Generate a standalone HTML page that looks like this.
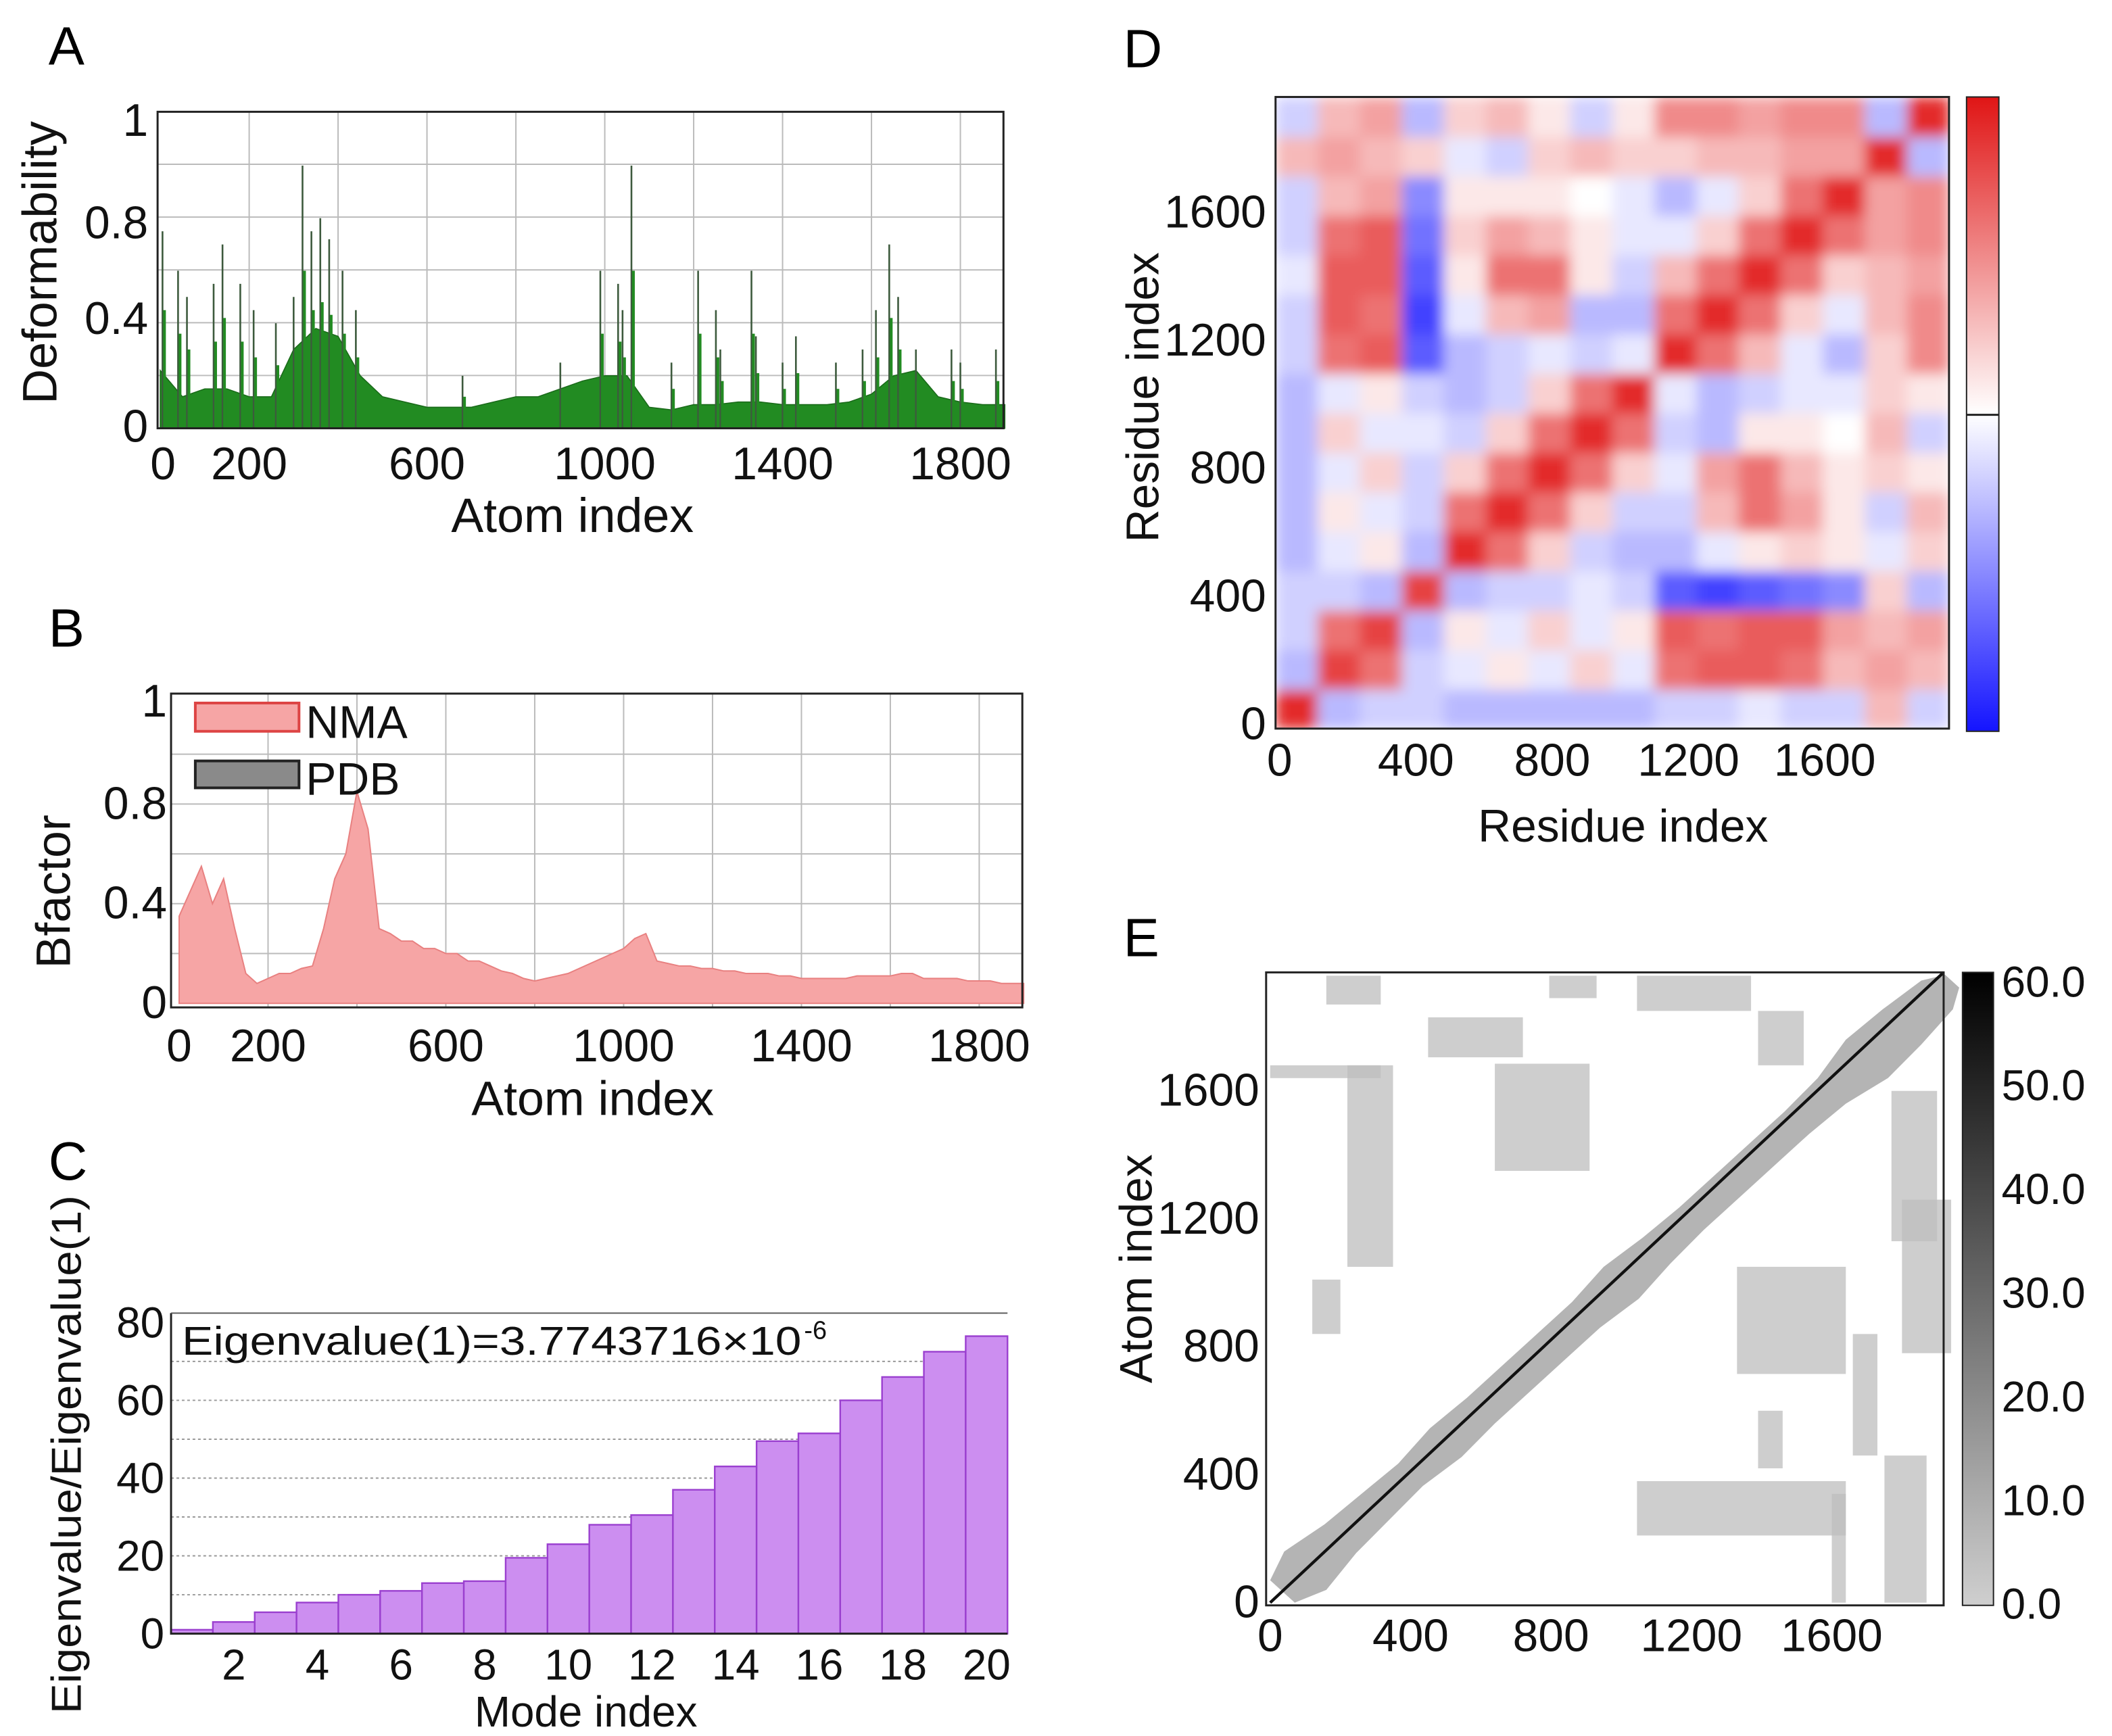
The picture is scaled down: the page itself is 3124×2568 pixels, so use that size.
<!DOCTYPE html>
<html><head><meta charset="utf-8"><title>NMA analysis panels</title>
<style>html,body{margin:0;padding:0;background:#fff;}svg{display:block;}text{font-family:"Liberation Sans",Arial,sans-serif;}</style>
</head><body>
<svg id="fig" width="3124" height="2568" viewBox="0 0 1568 1289" preserveAspectRatio="none">
<rect x="0" y="0" width="1568" height="1289" fill="#fff"/>
<defs>
<linearGradient id="bwr" x1="0" y1="0" x2="0" y2="1"><stop offset="0" stop-color="#e01515"/><stop offset="0.5" stop-color="#ffffff"/><stop offset="1" stop-color="#1414ff"/></linearGradient>
<linearGradient id="gry" x1="0" y1="0" x2="0" y2="1"><stop offset="0" stop-color="#000"/><stop offset="1" stop-color="#cfcfcf"/></linearGradient>
<filter id="soft" x="0" y="0" width="1" height="1"><feGaussianBlur stdDeviation="5" edgeMode="duplicate"/></filter>
<clipPath id="dclip"><rect x="947" y="72" width="500" height="469"/></clipPath>
</defs>
<text x="36" y="48" font-size="40">A</text>
<text x="36" y="480" font-size="40">B</text>
<text x="36" y="876" font-size="40">C</text>
<text x="834" y="50" font-size="40">D</text>
<text x="834" y="710" font-size="40">E</text>
</svg>
<script>
// ---------- data ----------
const aBaseIdx = [0,50,100,150,200,250,300,350,400,450,500,550,600,650,700,750,800,850,900,950,1000,1050,1100,1150,1200,1250,1300,1350,1400,1450,1500,1550,1600,1650,1700,1750,1800,1850,1900];
const aBaseVal = [0.22,0.12,0.15,0.15,0.12,0.12,0.3,0.38,0.35,0.2,0.12,0.1,0.08,0.08,0.08,0.1,0.12,0.12,0.15,0.18,0.2,0.2,0.08,0.07,0.09,0.09,0.1,0.1,0.09,0.09,0.09,0.1,0.13,0.2,0.22,0.12,0.1,0.09,0.09];
const aSpikeIdx = [5,40,60,120,140,180,210,260,300,320,340,360,380,410,440,680,900,990,1030,1040,1060,1150,1210,1250,1260,1330,1340,1400,1430,1520,1580,1610,1640,1660,1700,1780,1800,1880];
const aSpikeVal = [0.75,0.6,0.5,0.55,0.7,0.55,0.45,0.4,0.5,1.0,0.75,0.8,0.72,0.6,0.45,0.2,0.25,0.6,0.55,0.45,1.0,0.25,0.6,0.45,0.3,0.6,0.35,0.25,0.35,0.25,0.3,0.45,0.7,0.5,0.3,0.3,0.25,0.3];
const aXTicks = [0,200,600,1000,1400,1800];
const aYTicks = [0,0.4,0.8];
const bVal = [0.35,0.45,0.55,0.4,0.5,0.3,0.12,0.08,0.1,0.12,0.12,0.14,0.15,0.3,0.5,0.6,0.85,0.7,0.3,0.28,0.25,0.25,0.22,0.22,0.2,0.2,0.17,0.17,0.15,0.13,0.12,0.1,0.09,0.1,0.11,0.12,0.14,0.16,0.18,0.2,0.22,0.26,0.28,0.17,0.16,0.15,0.15,0.14,0.14,0.13,0.13,0.12,0.12,0.12,0.11,0.11,0.1,0.1,0.1,0.1,0.1,0.11,0.11,0.11,0.11,0.12,0.12,0.1,0.1,0.1,0.1,0.09,0.09,0.09,0.08,0.08,0.08];
const bStep = 25;
const bXTicks = [0,200,600,1000,1400,1800];
const bYTicks = [0,0.4,0.8];
const cModes = [1,2,3,4,5,6,7,8,9,10,11,12,13,14,15,16,17,18,19,20];
const cVals = [1,3,5.5,8,10,11,13,13.5,19.5,23,28,30.5,37,43,49.5,51.5,60,66,72.5,76.5];
const cYTicks = [0,20,40,60,80];
const dMatrix = [
[0.9,-0.3,-0.2,-0.2,-0.3,-0.3,-0.3,-0.3,-0.3,-0.2,-0.2,-0.1,-0.2,-0.2,0.3,-0.2],
[-0.3,0.8,0.6,-0.2,-0.1,0.1,-0.1,0.2,-0.1,0.6,0.7,0.7,0.6,0.3,0.4,0.3],
[-0.2,0.6,0.8,-0.3,0.1,-0.1,0.2,-0.1,0.1,0.7,0.6,0.7,0.7,0.4,0.3,0.4],
[-0.2,-0.2,-0.3,0.8,-0.3,-0.2,-0.2,-0.1,-0.2,-0.7,-0.8,-0.7,-0.6,-0.5,0.2,-0.3],
[-0.3,-0.1,0.1,-0.3,0.9,0.6,0.2,-0.2,-0.3,-0.3,-0.1,0.1,0.2,0.1,-0.1,0.2],
[-0.3,0.1,-0.1,-0.2,0.6,0.9,0.6,0.2,-0.2,-0.2,0.3,0.6,0.4,0.1,-0.2,0.3],
[-0.3,-0.1,0.2,-0.2,0.2,0.6,0.9,0.6,0.2,-0.1,0.4,0.6,0.3,0.1,0.2,0.1],
[-0.3,0.2,-0.1,-0.1,-0.2,0.2,0.6,0.9,0.6,-0.2,-0.3,0.1,0.1,0.0,0.3,-0.2],
[-0.3,-0.1,0.1,-0.2,-0.3,-0.2,0.2,0.6,0.9,-0.1,-0.3,-0.2,-0.1,-0.1,0.2,0.1],
[-0.2,0.6,0.7,-0.7,-0.3,-0.2,-0.1,-0.2,-0.1,0.9,0.6,0.3,-0.1,-0.3,0.2,0.5],
[-0.2,0.7,0.6,-0.8,-0.1,0.3,0.4,-0.3,-0.3,0.6,0.9,0.6,0.2,-0.1,0.3,0.5],
[-0.1,0.7,0.7,-0.7,0.1,0.6,0.6,0.1,-0.2,0.3,0.6,0.9,0.6,0.2,0.3,0.4],
[-0.2,0.6,0.7,-0.6,0.2,0.4,0.3,0.1,-0.1,-0.1,0.2,0.6,0.9,0.6,0.4,0.5],
[-0.2,0.3,0.4,-0.5,0.1,0.1,0.1,0.0,-0.1,-0.3,-0.1,0.2,0.6,0.9,0.4,0.5],
[0.3,0.4,0.3,0.2,-0.1,-0.2,0.2,0.3,0.2,0.2,0.3,0.3,0.4,0.4,0.9,-0.3],
[-0.2,0.3,0.4,-0.3,0.2,0.3,0.1,-0.2,0.1,0.5,0.5,0.4,0.5,0.5,-0.3,0.9]];
const dTicks = [0,400,800,1200,1600];
const eBandT = [0,100,200,300,400,500,600,700,800,900,1000,1100,1200,1300,1400,1500,1600,1700,1800,1900,1963];
const eBandW = [70,60,45,40,35,45,40,40,40,40,50,40,35,35,35,35,40,60,55,45,40];
const ePatchX0 = [640,1330,450,1750,1045,1800,0,220,1045,1600,120,1660,160,795,1390,1770,1390];
const ePatchX1 = [910,1640,720,1870,1370,1940,315,350,1640,1640,200,1730,315,930,1520,1900,1460];
const ePatchY0 = [1350,715,1705,0,1850,780,1640,1050,210,0,840,460,1870,1890,1680,1130,420];
const ePatchY1 = [1685,1050,1830,460,1960,1260,1680,1680,380,340,1010,840,1960,1960,1850,1600,600];
const eTicks = [0,400,800,1200,1600];
const eCbarLabels = ["60.0","50.0","40.0","30.0","20.0","10.0","0.0"];

// ---------- helpers ----------
const svg = document.getElementById('fig');
const NS = svg.namespaceURI;
function mk(tag, attrs, parent){const e=document.createElementNS(NS,tag);for(const k in attrs)e.setAttribute(k,attrs[k]);(parent||svg).appendChild(e);return e;}
function txt(s, x, y, size, anchor, name, rot){
  const t = mk('text',{x:x,y:y,'font-size':size,'text-anchor':anchor||'middle',fill:'#111'});
  if(rot) t.setAttribute('transform','rotate(-90 '+x+' '+y+')');
  t.textContent = s;
  
  
  return t;
}

// ---------- Panel A ----------
const A = {x0:117,x1:745,y0:83,y1:318};
const ax = v => 119 + v*0.33;
const ay = v => 318 - v*195;
for(let i=1;i<6;i++){const l=mk('line',{x1:A.x0,x2:A.x1,y1:A.y1-i*39.2,y2:A.y1-i*39.2,stroke:'#bbb','stroke-width':1});

}
for(let v=200;v<=1800;v+=200){const l=mk('line',{x1:ax(v),x2:ax(v),y1:A.y0,y2:A.y1,stroke:'#bbb','stroke-width':1});

}
let pa = 'M'+ax(0)+','+ay(0);
aBaseIdx.forEach((v,i)=>{pa+=' L'+ax(v)+','+ay(aBaseVal[i]);});
pa += ' L'+ax(aBaseIdx[aBaseIdx.length-1])+','+ay(0)+' Z';
const aArea = mk('path',{d:pa,fill:'#228b22',stroke:'#1a6b1a','stroke-width':0.8});


aSpikeIdx.forEach((v,i)=>{
  const l = mk('line',{x1:ax(v),x2:ax(v),y1:ay(0),y2:ay(aSpikeVal[i]),stroke:'#3d5a3d','stroke-width':1.3});
  
  
  const g = mk('line',{x1:ax(v)+1.5,x2:ax(v)+1.5,y1:ay(0),y2:ay(aSpikeVal[i]*0.6),stroke:'#228b22','stroke-width':2});
  
  
});
const aFrame = mk('rect',{x:A.x0,y:A.y0,width:A.x1-A.x0,height:A.y1-A.y0,fill:'none',stroke:'#222','stroke-width':1.5});


aXTicks.forEach(v=>txt(String(v),ax(v)+(v===0?2:0),356,34,'middle','a-x-tick-label'));
aYTicks.forEach(v=>txt(String(v),110,(v===0?ay(v)+10:ay(v)+12+(v===0.8?3:0)+(v===0.4?-4:0)),34,'end','a-y-tick-label'));
txt('1',110,101,34,'end','a-y-tick-label');
txt('Atom index',425,395,36,'middle','a-x-axis-title');
txt('Deformability',42,195,36,'middle','a-y-axis-title',true);

// ---------- Panel B ----------
const B = {x0:127,x1:759,y0:515,y1:748};
const bx = v => 133 + v*0.33;
const by = v => 745 - v*185;
for(let i=1;i<6;i++){const l=mk('line',{x1:B.x0,x2:B.x1,y1:745-i*37,y2:745-i*37,stroke:'#bbb','stroke-width':1});

}
for(let v=200;v<=1800;v+=200){const l=mk('line',{x1:bx(v),x2:bx(v),y1:B.y0,y2:B.y1,stroke:'#bbb','stroke-width':1});

}
let pb = 'M'+bx(0)+','+by(0);
bVal.forEach((v,i)=>{pb+=' L'+bx(i*bStep)+','+by(v);});
pb += ' L'+bx((bVal.length-1)*bStep)+','+by(0)+' Z';
const bArea = mk('path',{d:pb,fill:'#f6a5a5',stroke:'#e88080','stroke-width':1});


const bFrame = mk('rect',{x:B.x0,y:B.y0,width:B.x1-B.x0,height:B.y1-B.y0,fill:'none',stroke:'#222','stroke-width':1.5});


const lg1 = mk('rect',{x:145,y:522,width:77,height:21,fill:'#f6a5a5',stroke:'#d44','stroke-width':2});


txt('NMA',227,548,34,'start','legend-label-nma');
const lg2 = mk('rect',{x:145,y:565,width:77,height:20,fill:'#8a8a8a',stroke:'#222','stroke-width':2});


txt('PDB',227,590,34,'start','legend-label-pdb');
bXTicks.forEach(v=>txt(String(v),bx(v),788,34,'middle','b-x-tick-label'));
bYTicks.forEach(v=>txt(String(v),124,by(v)+11,34,'end','b-y-tick-label'));
txt('1',124,532,34,'end','b-y-tick-label');
txt('Atom index',440,828,36,'middle','b-x-axis-title');
txt('Bfactor',52,662,36,'middle','b-y-axis-title',true);

// ---------- Panel C ----------
const C = {x0:127,x1:748,y0:975,y1:1213};
const cw = (C.x1-C.x0)/cModes.length;
const cx = m => C.x0 + (m-1)*cw;
const cy = v => 1213 - v*2.8875;
for(let v=10;v<=70;v+=10){const l=mk('line',{x1:C.x0,x2:C.x1,y1:cy(v),y2:cy(v),stroke:'#999','stroke-width':1,'stroke-dasharray':'2,2'});

}
cModes.forEach((m,i)=>{
  const r = mk('rect',{x:cx(m),y:cy(cVals[i]),width:cw,height:cy(0)-cy(cVals[i]),fill:'#cc8ef0',stroke:'#9a3fcf','stroke-width':1.2});
  
  
});
const cAxis = mk('path',{d:'M'+C.x0+','+C.y0+' L'+C.x0+','+C.y1+' L'+C.x1+','+C.y1,fill:'none',stroke:'#222','stroke-width':1.5});


const cTop = mk('line',{x1:C.x0,x2:C.x1,y1:C.y0,y2:C.y0,stroke:'#555','stroke-width':1});


cModes.filter(m=>m%2===0).forEach(m=>txt(String(m),cx(m)+cw/2,1247,32,'middle','c-x-tick-label'));
cYTicks.forEach(v=>txt(String(v),122,cy(v)+11,32,'end','c-y-tick-label'));
txt('Mode index',435,1282,32,'middle','c-x-axis-title');
const cyt = txt('Eigenvalue/Eigenvalue(1)',60,1080,31,'middle','c-y-axis-title',true);
cyt.setAttribute('textLength','385');
cyt.setAttribute('lengthAdjust','spacingAndGlyphs');
const ct = txt('Eigenvalue(1)=3.7743716×10',135,1006,30,'start','eigenvalue-annotation');
ct.setAttribute('textLength','460');
ct.setAttribute('lengthAdjust','spacingAndGlyphs');
txt('-6',597,994,19,'start','eigenvalue-annotation-exponent');

// ---------- Panel D ----------
const D = {x0:947,x1:1447,y0:72,y1:541};
const n = dMatrix.length;
const dcw = (D.x1-D.x0)/n, dch = (D.y1-D.y0)/n;
function bwr(v){v=Math.max(-1,Math.min(1,v));if(v>=0){const a=v;return 'rgb('+Math.round(255-a*(255-224))+','+Math.round(255-a*235)+','+Math.round(255-a*235)+')';}const a=-v;return 'rgb('+Math.round(255-a*235)+','+Math.round(255-a*235)+',255)';}
const dClipG = mk('g',{'clip-path':'url(#dclip)'});


const dG = mk('g',{filter:'url(#soft)'},dClipG);


dMatrix.forEach((row,i)=>row.forEach((v,j)=>{
  const r = mk('rect',{x:D.x0+j*dcw,y:D.y1-(i+1)*dch,width:dcw+0.5,height:dch+0.5,fill:bwr(v)},dG);
  
  
}));
const dFrame = mk('rect',{x:D.x0,y:D.y0,width:D.x1-D.x0,height:D.y1-D.y0,fill:'none',stroke:'#222','stroke-width':1.5});


const dcb = mk('rect',{x:1460,y:72,width:24,height:471,fill:'url(#bwr)',stroke:'#222','stroke-width':1});


const dcm = mk('line',{x1:1460,x2:1484,y1:308,y2:308,stroke:'#222','stroke-width':1.5});


const dxs = v => 950 + v*0.253;
const dys = v => 538 - v*0.2375;
dTicks.forEach(v=>txt(String(v),dxs(v),576,34,'middle','d-x-tick-label'));
dTicks.forEach(v=>txt(String(v),940,dys(v)+11,34,'end','d-y-tick-label'));
txt('Residue index',1205,625,34,'middle','d-x-axis-title');
txt('Residue index',860,295,34,'middle','d-y-axis-title',true);

// ---------- Panel E ----------
const E = {x0:940,x1:1443,y0:722,y1:1192};
const ex = v => 943 + v*0.2606;
const ey = v => 1190 - v*0.2375;
ePatchX0.forEach((x0,i)=>{
  const r = mk('rect',{x:ex(x0),y:ey(ePatchY1[i]),width:ex(ePatchX1[i])-ex(x0),height:ey(ePatchY0[i])-ey(ePatchY1[i]),fill:'#bdbdbd',opacity:0.75});
  
  
});
let up='', lo=[];
eBandT.forEach((t,i)=>{const w=eBandW[i];up+=(i?' L':'M')+ex(Math.max(0,t-w))+','+ey(Math.min(1963,t+w));lo.push(ex(Math.min(1963,t+w))+','+ey(Math.max(0,t-w)));});
const band = mk('path',{d:up+' L'+lo.reverse().join(' L')+' Z',fill:'#b4b4b4'});


const diag = mk('line',{x1:ex(0),y1:ey(0),x2:E.x1,y2:E.y0,stroke:'#111','stroke-width':2.2});


const eFrame = mk('rect',{x:E.x0,y:E.y0,width:E.x1-E.x0,height:E.y1-E.y0,fill:'none',stroke:'#222','stroke-width':1.5});


const ecb = mk('rect',{x:1457,y:722,width:23,height:470,fill:'url(#gry)',stroke:'#222','stroke-width':1});


eCbarLabels.forEach((s,i)=>txt(s,1486,728+i*77+12,32,'start','e-colorbar-label'));
eTicks.forEach(v=>txt(String(v),ex(v),1226,34,'middle','e-x-tick-label'));
eTicks.forEach(v=>txt(String(v),935,ey(v)+11,34,'end','e-y-tick-label'));
txt('Atom index',855,942,34,'middle','e-y-axis-title',true);
</script>
</body></html>
